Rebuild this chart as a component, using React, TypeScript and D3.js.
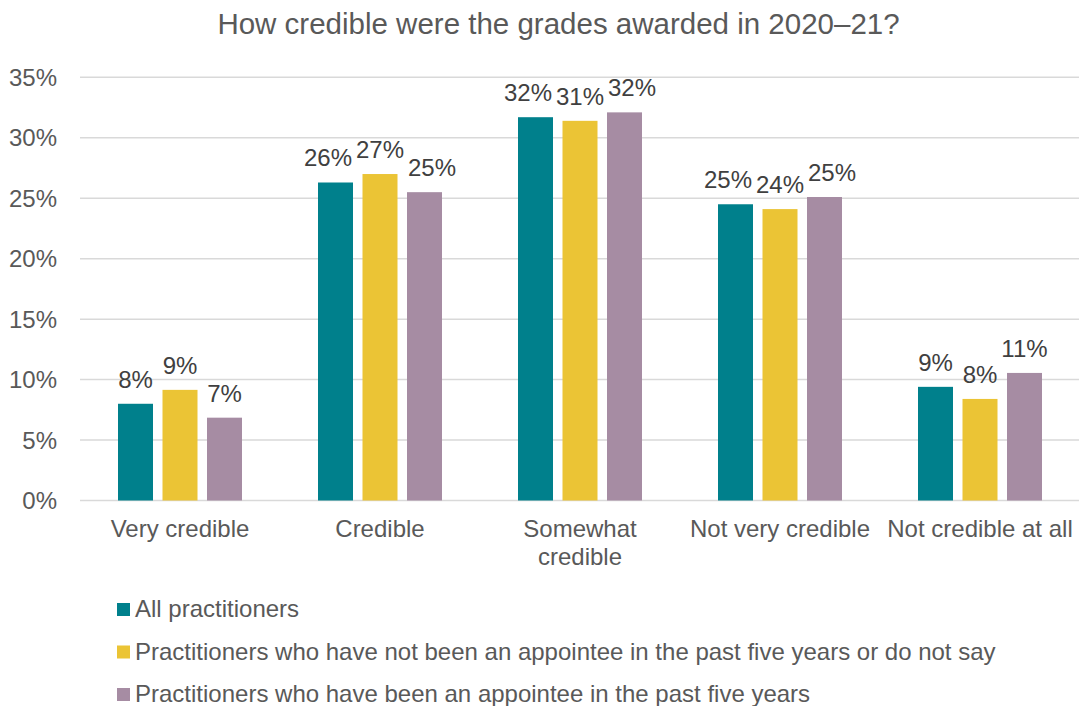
import React from "react";
import * as d3 from "d3";

const categories = ["Very credible", "Credible", "Somewhat credible", "Not very credible", "Not credible at all"];
const seriesNames = [
  "All practitioners",
  "Practitioners who have not been an appointee in the past five years or do not say",
  "Practitioners who have been an appointee in the past five years",
];
const allPractitioners = [8.0, 26.3, 31.7, 24.5, 9.4];
const notAppointee = [9.15, 27.0, 31.4, 24.1, 8.4];
const appointee = [6.85, 25.5, 32.1, 25.1, 10.55];
const labelsAll = ["8%", "26%", "32%", "25%", "9%"];
const labelsNot = ["9%", "27%", "31%", "24%", "8%"];
const labelsApp = ["7%", "25%", "32%", "25%", "11%"];
const yTicks = [0, 5, 10, 15, 20, 25, 30, 35];
const colors = ["#00808C", "#EBC435", "#A68CA3"];

const W = 1079;
const H = 706;
const FONT = "'Liberation Sans', Arial, sans-serif";
const TXT = "#595959";

export default function App() {
  const values = [allPractitioners, notAppointee, appointee];
  const labels = [labelsAll, labelsNot, labelsApp];
  const x = d3.scaleBand<string>().domain(categories).range([80, 1080]).padding(0);
  const y = d3.scaleLinear().domain([0, 35]).range([500.5, 77.3]);
  const fs = 24;

  const textW = (s: string) => {
    let w = 0;
    for (const ch of s) w += ch === "%" ? 0.889 * fs : 0.556 * fs;
    return w;
  };

  const groups = categories.map((c, ci) => {
    const center = (x(c) as number) + x.bandwidth() / 2;
    const x1 = d3.scaleBand<string>().domain(seriesNames).range([center - 62, center + 62]).paddingInner(9.5 / 44.5).paddingOuter(0);
    const bars = seriesNames.map((s, si) => {
      const v = values[si][ci];
      const bx = x1(s) as number;
      return { s, si, v, bx, bw: x1.bandwidth(), top: y(v), label: labels[si][ci], lx: bx + x1.bandwidth() / 2 };
    });
    for (let it = 0; it < 20; it++) {
      for (let i = 1; i < bars.length; i++) {
        const a = bars[i - 1], b = bars[i];
        if (Math.abs(a.top - b.top) > fs) continue;
        const gap = 4;
        const ov = a.lx + textW(a.label) / 2 + gap - (b.lx - textW(b.label) / 2);
        if (ov > 0) {
          a.lx -= ov / 2;
          b.lx += ov / 2;
        }
      }
    }
    return { c, ci, center, bars };
  });

  return (
    <svg width={W} height={H} style={{ display: "block", position: "absolute", left: 0, top: 0, background: "#fff" }} fontFamily={FONT}>
      <rect width={W} height={H} fill="#fff" />
      <text x={558.5} y={34} textAnchor="middle" fontSize={29.5} fill={TXT}>
        How credible were the grades awarded in 2020–21?
      </text>
      {yTicks.map((t) => (
        <g key={t}>
          <line x1={80} x2={1080} y1={y(t)} y2={y(t)} stroke="#D9D9D9" strokeWidth={1.5} />
          <text x={57} y={y(t)} dy="0.36em" textAnchor="end" fontSize={fs} fill={TXT}>
            {t}%
          </text>
        </g>
      ))}
      {groups.map((g) => (
        <g key={g.c}>
          {g.bars.map((b) => (
            <rect key={b.s} x={b.bx} y={b.top} width={b.bw} height={y(0) - b.top} fill={colors[b.si]} />
          ))}
          {g.bars.map((b) => (
            <text key={"l" + b.s} x={b.lx} y={b.top - 16} textAnchor="middle" fontSize={fs} fill="#404040">
              {b.label}
            </text>
          ))}
          {g.c === "Somewhat credible" ? (
            <text x={g.center} y={537} textAnchor="middle" fontSize={fs} fill={TXT}>
              <tspan x={g.center}>Somewhat</tspan>
              <tspan x={g.center} dy={28}>credible</tspan>
            </text>
          ) : (
            <text x={g.center} y={537} textAnchor="middle" fontSize={fs} fill={TXT}>
              {g.c}
            </text>
          )}
        </g>
      ))}
      {seriesNames.map((s, i) => (
        <g key={s}>
          <rect x={117} y={603 + i * 42.5} width={13} height={13} fill={colors[i]} />
          <text x={135} y={617 + i * 42.5} fontSize={fs} fill={TXT}>
            {s}
          </text>
        </g>
      ))}
    </svg>
  );
}
